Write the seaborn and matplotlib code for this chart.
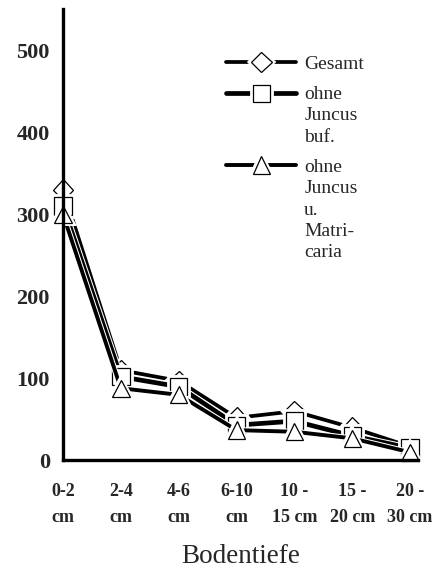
import numpy as np
import pandas as pd
import matplotlib
matplotlib.use("Agg")
import matplotlib.pyplot as plt
import matplotlib.patheffects as pe
from matplotlib.legend_handler import HandlerLine2D
import seaborn as sns

# data
depths = ["0-2\ncm", "2-4\ncm", "4-6\ncm", "6-10\ncm", "10 -\n15 cm", "15 -\n20 cm", "20 -\n30 cm"]
gesamt = [330, 110, 97, 52, 60, 40, 17]
ohne_juncus = [310, 102, 90, 43, 48, 30, 15]
ohne_juncus_matricaria = [300, 88, 80, 37, 35, 27, 10]
series_labels = ["Gesamt", "ohne\nJuncus\nbuf.", "ohne\nJuncus\nu.\nMatri-\ncaria"]

LEG_LINESPACING = 1.32

sns.set_style("white")
plt.rcParams["font.family"] = ["Liberation Serif", "DejaVu Serif"]


class TopLineHandler(HandlerLine2D):
    """Line handle aligned with the first text line of a multi-line label."""

    def __init__(self, n_lines, **kw):
        super().__init__(**kw)
        self.n_lines = n_lines

    def create_artists(self, legend, orig_handle, xdescent, ydescent, width, height, fontsize, trans):
        arts = super().create_artists(legend, orig_handle, xdescent, ydescent, width, height, fontsize, trans)
        shift = (self.n_lines - 1) / 2 * fontsize * LEG_LINESPACING * 0.873
        for a in arts:
            a.set_ydata(np.asarray(a.get_ydata()) + shift)
        return arts


fig = plt.figure(figsize=(4.45, 5.69), dpi=100)
ax = fig.add_axes([0.1416, 0.1907, 0.798, 0.7935])

styles = [("D", 10.5, 2.7), ("s", 12.5, 3.4), ("^", 12.5, 2.8)]
x = np.arange(len(depths))
for vals, label, (mk, ms, lw) in zip([gesamt, ohne_juncus, ohne_juncus_matricaria], series_labels, styles):
    sns.lineplot(x=x, y=vals, ax=ax, color="black", linewidth=lw, marker=mk, markersize=ms,
                 markerfacecolor="white", markeredgecolor="black", markeredgewidth=0.9,
                 label=label, sort=False, clip_on=False,
                 path_effects=[pe.withStroke(linewidth=lw + 1.5, foreground="white")])

ax.set_xlim(0, 6.14)
ax.set_ylim(0, 550)
ax.set_xticks(x)
ax.set_xticklabels(depths, fontsize=13, fontweight="bold", linespacing=1.68)
ax.set_yticks([0, 100, 200, 300, 400, 500])
ax.set_yticklabels(["0", "100", "200", "300", "400", "500"], fontsize=16, fontweight="bold")
ax.tick_params(axis="both", direction="inout", length=7, width=2, color="black")
ax.tick_params(axis="x", pad=13)
ax.tick_params(axis="y", pad=6)
for side in ["top", "right"]:
    ax.spines[side].set_visible(False)
for side in ["left", "bottom"]:
    ax.spines[side].set_linewidth(2.4)
    ax.spines[side].set_color("black")
ax.set_xlabel("Bodentiefe", fontsize=19.5, labelpad=13)
ax.set_ylabel("")

handles = ax.get_lines()[:3]
hmap = {h: TopLineHandler(lab.count("\n") + 1) for h, lab in zip(handles, series_labels)}
leg = ax.legend(handles, series_labels, handler_map=hmap, loc="upper left", bbox_to_anchor=(0.46, 0.898),
                frameon=False, fontsize=14, handlelength=3.6, handletextpad=0.4, labelspacing=0.7,
                borderpad=0, borderaxespad=0)
for t in leg.get_texts():
    t.set_linespacing(LEG_LINESPACING)

fig.savefig("out.png", dpi=100)
